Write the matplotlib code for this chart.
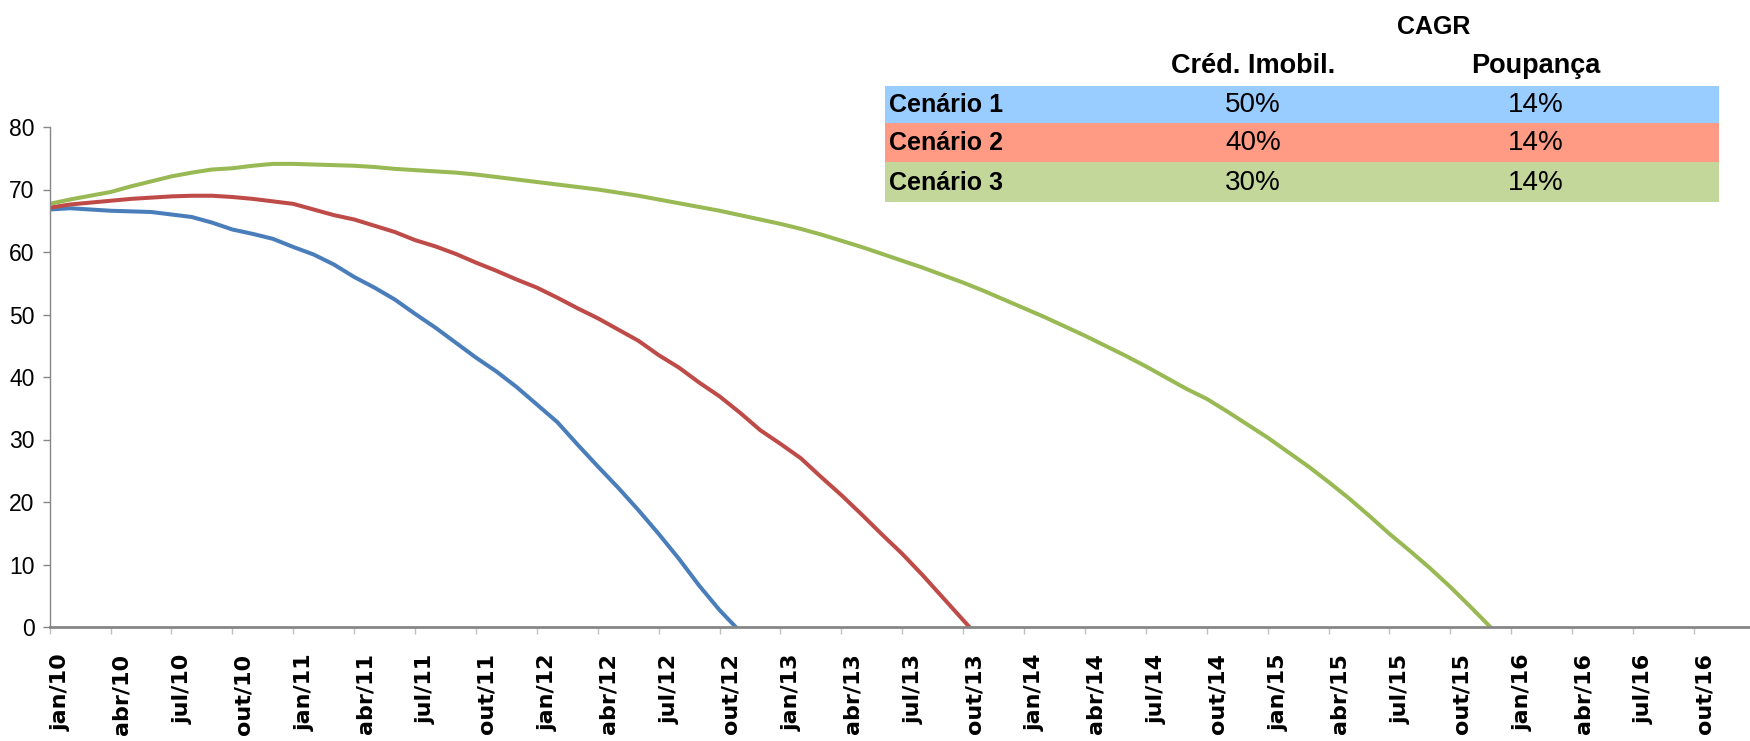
import matplotlib
matplotlib.use("Agg")
import matplotlib.pyplot as plt
from matplotlib.patches import Rectangle
from matplotlib.transforms import ScaledTranslation

# ---------------- data ----------------
cenario1 = [66.8, 67.0, 66.8, 66.6, 66.5, 66.4, 66.0, 65.6, 64.7, 63.6,
            62.9, 62.1, 60.8, 59.6, 58.0, 56.0, 54.3, 52.4, 50.1, 47.9,
            45.5, 43.1, 40.9, 38.4, 35.6, 32.8, 29.2, 25.7, 22.3, 18.7,
            14.9, 10.9, 6.6, 2.7, -0.7]
cenario2 = [67.1, 67.6, 67.9, 68.2, 68.5, 68.7, 68.9, 69.0, 69.0, 68.8,
            68.5, 68.1, 67.7, 66.8, 65.9, 65.2, 64.2, 63.2, 61.9, 60.9,
            59.7, 58.3, 57.0, 55.6, 54.3, 52.7, 51.0, 49.4, 47.6, 45.8,
            43.5, 41.5, 39.1, 36.9, 34.3, 31.5, 29.3, 27.0, 24.0, 21.1,
            18.0, 14.8, 11.7, 8.3, 4.7, 1.1, -2.5]
cenario3 = [67.7, 68.4, 69.0, 69.6, 70.5, 71.3, 72.1, 72.7, 73.2, 73.4,
            73.8, 74.1, 74.1, 74.0, 73.9, 73.8, 73.6, 73.3, 73.1, 72.9,
            72.7, 72.4, 72.0, 71.6, 71.2, 70.8, 70.4, 70.0, 69.5, 69.0,
            68.4, 67.8, 67.2, 66.6, 65.9, 65.2, 64.5, 63.7, 62.8, 61.8,
            60.8, 59.7, 58.6, 57.5, 56.3, 55.1, 53.8, 52.4, 51.0, 49.6,
            48.1, 46.6, 45.0, 43.4, 41.7, 39.9, 38.1, 36.5, 34.5, 32.4,
            30.3, 28.0, 25.7, 23.2, 20.6, 17.8, 14.9, 12.2, 9.4, 6.4,
            3.2, -0.1]

tick_labels = ["jan/10", "abr/10", "jul/10", "out/10",
               "jan/11", "abr/11", "jul/11", "out/11",
               "jan/12", "abr/12", "jul/12", "out/12",
               "jan/13", "abr/13", "jul/13", "out/13",
               "jan/14", "abr/14", "jul/14", "out/14",
               "jan/15", "abr/15", "jul/15", "out/15",
               "jan/16", "abr/16", "jul/16", "out/16"]
months_per_tick = 3

table_title = "CAGR"
table_cols = ["Créd. Imobil.", "Poupança"]
table_rows = ["Cenário 1", "Cenário 2", "Cenário 3"]
cagr_cred = ["50%", "40%", "30%"]
cagr_poup = ["14%", "14%", "14%"]

line_colors = ["#4A7EBB", "#BE4B48", "#98B954"]
row_colors = ["#99CCFF", "#FF9B84", "#C4D79B"]

narrow = ["Liberation Sans Narrow", "Liberation Sans", "DejaVu Sans"]

# ---------------- figure ----------------
W, H = 1750, 741
fig = plt.figure(figsize=(W / 100, H / 100), dpi=100)

ax_left = 49.7 / W
ax_bottom = 1 - 627 / H
ax_top = 1 - 127 / H
ax = fig.add_axes([ax_left, ax_bottom, 1.0 - ax_left, ax_top - ax_bottom])

for series, col in zip([cenario1, cenario2, cenario3], line_colors):
    ax.plot(range(len(series)), series, color=col, lw=2.9,
            solid_capstyle="butt", solid_joinstyle="round")

ax.set_xlim(0, 83.76)
ax.set_ylim(0, 80)
ax.set_yticks(range(0, 81, 10))
ax.set_xticks([i * months_per_tick for i in range(len(tick_labels))])

for s in ["top", "right"]:
    ax.spines[s].set_visible(False)
ax.spines["left"].set_color("#868686")
ax.spines["left"].set_linewidth(1.0)
ax.spines["bottom"].set_color("#868686")
ax.spines["bottom"].set_linewidth(2.0)
ax.tick_params(axis="y", length=5, width=1, color="#868686", pad=6)
ax.tick_params(axis="x", length=5, width=1, color="#BFBFBF", pad=14)

ax.set_xticklabels(tick_labels, rotation=90, fontsize=16,
                   fontweight="bold", family="DejaVu Sans")
for lab in ax.get_xticklabels():
    lab.set_transform(lab.get_transform() +
                      ScaledTranslation(11 / 100, 0, fig.dpi_scale_trans))
ax.set_yticks(range(0, 81, 10))
ax.set_yticklabels([str(v) for v in range(0, 81, 10)], fontsize=16.5,
                   family=narrow)

# ---------------- CAGR table ----------------
x0 = 885 / W
tw = (1719 - 885) / W
row_edges = [86, 123, 162, 202]
col_x = [1253 / W, 1536 / W]
for i, name in enumerate(table_rows):
    ytop = 1 - row_edges[i] / H
    ybot = 1 - row_edges[i + 1] / H
    fig.patches.append(Rectangle((x0, ybot), tw, ytop - ybot,
                                 transform=fig.transFigure,
                                 facecolor=row_colors[i], edgecolor="none",
                                 zorder=0))
    yc = (ytop + ybot) / 2 - 1 / H
    fig.text(889 / W, yc, name, ha="left", va="center", fontsize=18,
             fontweight="bold", family="Liberation Sans")
    fig.text(col_x[0], yc, cagr_cred[i], ha="center", va="center",
             fontsize=20, family="Liberation Sans")
    fig.text(col_x[1], yc, cagr_poup[i], ha="center", va="center",
             fontsize=20, family="Liberation Sans")

fig.text(1434 / W, 1 - 27 / H, table_title, ha="center", va="center",
         fontsize=18, fontweight="bold", family="Liberation Sans")
for cx, cname in zip(col_x, table_cols):
    fig.text(cx, 1 - 66 / H, cname, ha="center", va="center", fontsize=19.5,
             fontweight="bold", family="Liberation Sans")

fig.savefig("out.png", dpi=100)
